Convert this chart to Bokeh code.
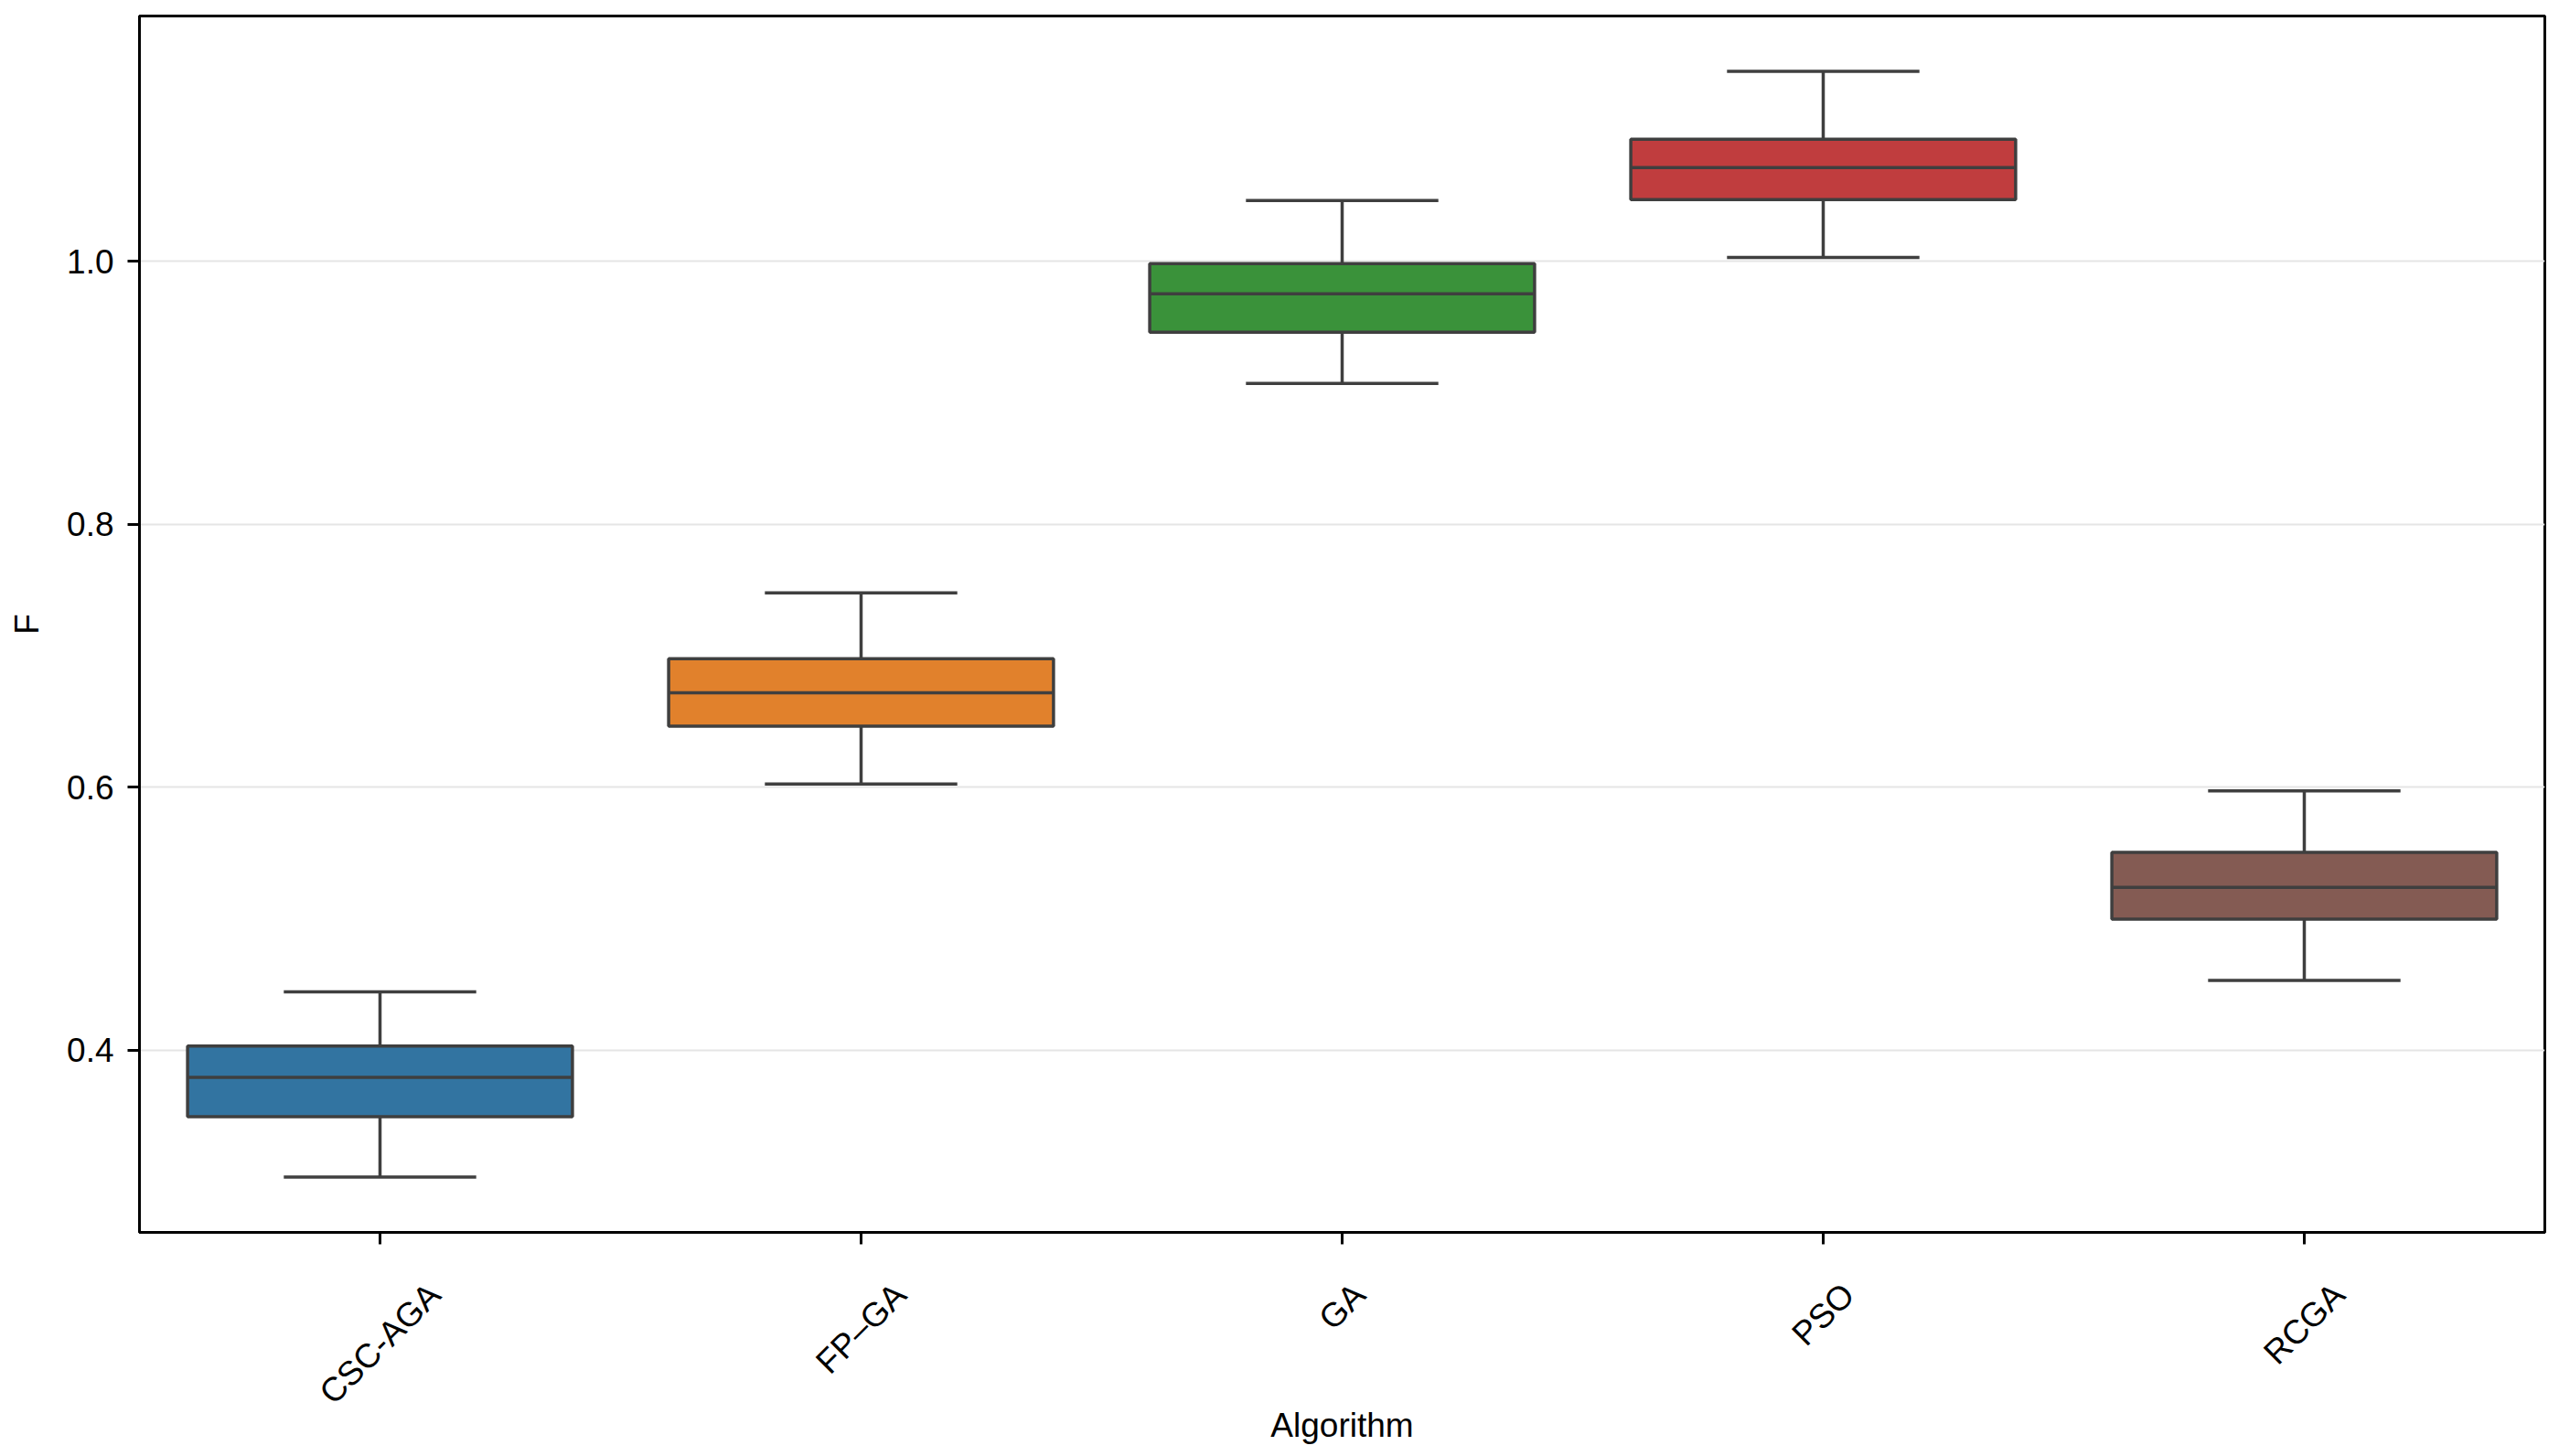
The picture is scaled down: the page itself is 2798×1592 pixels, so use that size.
import math
from bokeh.plotting import figure
from bokeh.models import Range1d, FixedTicker, ColumnDataSource, LinearAxis, PrintfTickFormatter
from bokeh.embed import file_html
from bokeh.resources import INLINE

categories = ["CSC-AGA", "FP\u2013GA", "GA", "PSO", "RCGA"]
lower_whisker = [0.3034, 0.6024, 0.9070, 1.0028, 0.4529]
q1 = [0.3493, 0.6463, 0.9460, 1.0468, 0.4995]
median = [0.3792, 0.6718, 0.9752, 1.0711, 0.5237]
q3 = [0.4031, 0.6977, 0.9981, 1.0927, 0.5503]
upper_whisker = [0.4442, 0.7478, 1.0461, 1.1444, 0.5971]
colors = ["#3274a1", "#e1812c", "#3a923a", "#c03d3e", "#845b53"]
y_ticks = [0.4, 0.6, 0.8, 1.0]

edge = "#3f3f3f"
font = "Liberation Sans"
fs_px = 37
fs = f"{fs_px}px"
box_w = 0.8
cap_w = 0.4

W, H = 2790, 1584
B_LEFT, B_RIGHT, B_TOP, B_BOTTOM = 152, 8, 17, 237
frame_w = W - B_LEFT - B_RIGHT

# approximate Arial advance widths (em), used to centre the rotated labels under their ticks
char_w = {"C": 0.722, "S": 0.667, "A": 0.667, "G": 0.778, "P": 0.667, "O": 0.778,
          "R": 0.722, "F": 0.611, "-": 0.333, "\u2013": 0.556}

xs = list(range(len(categories)))
src = ColumnDataSource(dict(
    x=xs, lw=lower_whisker, q1=q1, med=median, q3=q3, uw=upper_whisker, color=colors,
    left=[x - box_w / 2 for x in xs], right=[x + box_w / 2 for x in xs],
    cl=[x - cap_w / 2 for x in xs], cr=[x + cap_w / 2 for x in xs],
))

lo = min(lower_whisker)
hi = max(upper_whisker)
pad = (hi - lo) * 0.05
x0, x1 = -0.5, len(categories) - 0.5
px_per_unit = frame_w / (x1 - x0)

p = figure(width=W, height=H, output_backend="svg", toolbar_location=None,
           x_range=Range1d(x0, x1), y_range=Range1d(lo - pad, hi + pad),
           min_border_left=B_LEFT, min_border_right=B_RIGHT,
           min_border_top=B_TOP, min_border_bottom=B_BOTTOM)

p.background_fill_color = "white"
p.border_fill_color = "white"
p.outline_line_color = "black"
p.outline_line_width = 3

lw = 3.5
p.segment(x0="x", y0="q3", x1="x", y1="uw", source=src, line_color=edge, line_width=lw)
p.segment(x0="x", y0="q1", x1="x", y1="lw", source=src, line_color=edge, line_width=lw)
p.segment(x0="cl", y0="uw", x1="cr", y1="uw", source=src, line_color=edge, line_width=lw)
p.segment(x0="cl", y0="lw", x1="cr", y1="lw", source=src, line_color=edge, line_width=lw)
p.quad(left="left", right="right", bottom="q1", top="q3", source=src,
       fill_color="color", line_color=edge, line_width=lw)
p.segment(x0="left", y0="med", x1="right", y1="med", source=src, line_color=edge, line_width=lw)

p.xgrid.visible = False
p.ygrid.grid_line_color = "#e5e5e5"
p.ygrid.grid_line_width = 2
p.ygrid.ticker = FixedTicker(ticks=y_ticks)

# main x axis: tick marks only
p.xaxis.ticker = FixedTicker(ticks=xs)
p.xaxis.major_label_overrides = {i: "" for i in xs}
p.yaxis.ticker = FixedTicker(ticks=y_ticks)
p.yaxis.formatter = PrintfTickFormatter(format="%.1f")

# second x axis carrying the 45-degree category labels; Bokeh anchors the END of a
# rotated label at its tick, so the label positions are moved right by half the
# label's horizontal extent to centre each one under its category tick
s45 = math.sin(math.pi / 4)
label_pos = []
for i, c in enumerate(categories):
    w = sum(char_w.get(ch, 0.6) for ch in c) * fs_px
    label_pos.append(round(i + 0.5 * w * s45 / px_per_unit, 4))
lab_axis = LinearAxis(ticker=FixedTicker(ticks=label_pos),
                      major_label_overrides={pos: c for pos, c in zip(label_pos, categories)},
                      major_label_orientation=math.pi / 4)
p.add_layout(lab_axis, "below")

for ax in (p.xaxis[0], p.yaxis[0], lab_axis):
    ax.axis_line_color = "black"
    ax.axis_line_width = 3
    ax.major_tick_line_color = "black"
    ax.major_tick_line_width = 3
    ax.major_tick_out = 13
    ax.major_tick_in = 0
    ax.minor_tick_line_color = None
    ax.major_label_text_font = font
    ax.major_label_text_font_size = fs
    ax.major_label_text_color = "black"
    ax.axis_label_text_font = font
    ax.axis_label_text_font_size = fs
    ax.axis_label_text_font_style = "normal"
    ax.axis_label_text_color = "black"

lab_axis.axis_line_color = None
lab_axis.major_tick_line_color = None
lab_axis.major_tick_out = 0
lab_axis.major_label_standoff = 49
lab_axis.axis_label = "Algorithm"
lab_axis.axis_label_standoff = -23

p.xaxis[0].major_label_standoff = 0
p.yaxis.axis_label = "F"
p.yaxis.major_label_standoff = 15
p.yaxis.axis_label_standoff = 20

open("out.html", "w").write(file_html(p, INLINE))
